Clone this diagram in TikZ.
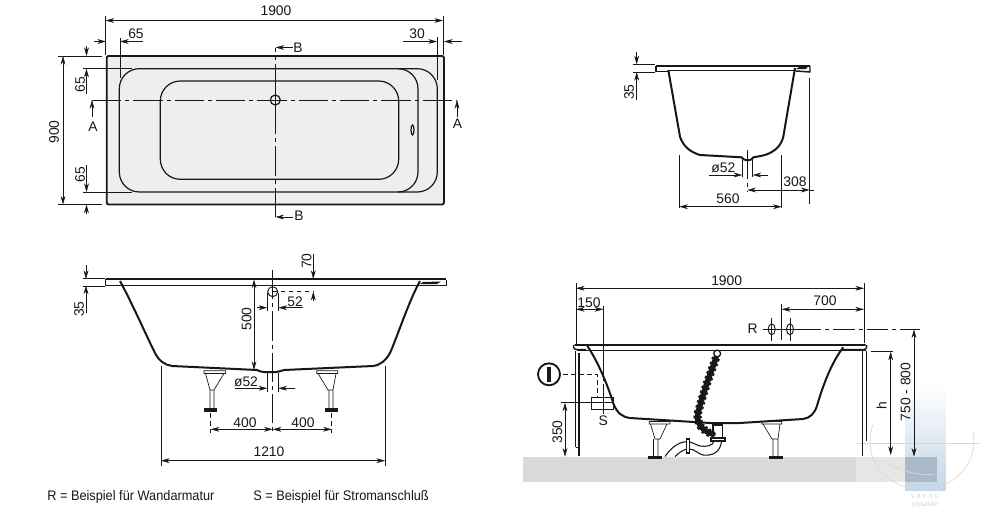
\documentclass[tikz,border=0pt]{standalone}
\usepackage{fontspec}
\setmainfont{Liberation Sans}
\newfontfamily\legendfont[FakeStretch=0.92]{Liberation Sans}
\usetikzlibrary{arrows.meta}
\definecolor{ink}{HTML}{1A1718}
\definecolor{plate}{HTML}{EEEEEE}
\definecolor{floorgrey}{HTML}{D9D9D9}
\definecolor{floorlight}{HTML}{E6E6E6}
\definecolor{wmblue}{HTML}{C3D5E7}
\definecolor{wmdark}{HTML}{AAB9C9}
\definecolor{wmline}{HTML}{D8D8D8}
\tikzset{
  dim/.style={draw=ink,line width=0.4pt},
  tip/.style={dim,-{Stealth[length=6.5pt,width=3.6pt]}},
  tips/.style={dim,{Stealth[length=6.5pt,width=3.6pt]}-{Stealth[length=6.5pt,width=3.6pt]}},
  ext/.style={draw=ink,line width=0.35pt},
  hull/.style={draw=ink,line width=1.5pt,line join=round},
  thinl/.style={draw=ink,line width=0.5pt},
  axis/.style={draw=ink,line width=0.45pt,dash pattern=on 22pt off 3pt on 3pt off 3pt},
  hid/.style={draw=ink,line width=0.5pt,dash pattern=on 3.5pt off 2.5pt},
  lbl/.style={font=\fontsize{10.4}{12}\selectfont,text=ink,inner sep=0pt},
  lblv/.style={lbl,rotate=90},
  legend/.style={font=\legendfont\fontsize{10.4}{12}\selectfont,text=ink,inner sep=0pt,anchor=west},
}
\begin{document}
\begin{tikzpicture}[x=0.75pt,y=-0.75pt]
\useasboundingbox (0,0) rectangle (993,514);
\fill[white] (0,0) rectangle (993,514);

% ---------- top view
\draw[fill=plate,line width=1.4pt,draw=ink,rounded corners=1.5pt] (106.7,56) rectangle (444,204.5);
\draw[thinl,line width=0.9pt] (398,68.7) -- (417.3,68.7) arc[start angle=-90,end angle=0,radius=20] -- (437.3,172) arc[start angle=0,end angle=90,radius=20] -- (398,192);
\draw[thinl,line width=0.9pt] (139.3,68.7) -- (398,68.7) arc[start angle=-90,end angle=0,radius=20] -- (418,172) arc[start angle=0,end angle=90,radius=20] -- (139.3,192) arc[start angle=90,end angle=180,radius=20] -- (119.3,88.7) arc[start angle=180,end angle=270,radius=20] -- cycle;
\draw[thinl,line width=0.9pt,rounded corners=15pt] (160.3,81) rectangle (398.7,179.3);
\draw[thinl,line width=0.9pt] (412.5,130) ellipse (1.5 and 5);
\draw[axis] (92,100) -- (457,100);
\draw[axis] (275.3,217) -- (275.3,47.5);
\draw[thinl,line width=0.9pt,fill=plate] (275.3,100) circle (5);
\draw[ext] (275.3,91) -- (275.3,109) (266,100) -- (284.5,100);
\draw[tip] (293,47.5) -- (275.5,47.5);
\draw[tip] (293,217) -- (275.5,217);
\node[lbl] (tB1) at (298,48) {B};
\node[lbl] (tB2) at (299,216) {B};
\draw[tip] (92,117) -- (92,100);
\draw[tip] (457,117) -- (457,100);
\node[lbl] (tA1) at (93,127) {A};
\node[lbl] (tA2) at (457.5,124) {A};
\draw[tips] (105.5,20.5) -- (443,20.5);
\draw[ext] (105.5,16) -- (105.5,55) (443,16) -- (443,55);
\node[lbl] (t1900a) at (276,11) {1900};
\draw[tip] (94,41.5) -- (106,41.5);
\draw[tip] (143,41.5) -- (120,41.5);
\draw[ext] (120,38) -- (120,78);
\node[lbl] (t65a) at (136,34) {65};
\draw[tip] (403,41.5) -- (437,41.5);
\draw[tip] (462,41.5) -- (444,41.5);
\draw[ext] (437,37) -- (437,80);
\node[lbl] (t30) at (417,34) {30};
\draw[tips] (63,56) -- (63,204.5);
\draw[ext] (58,56) -- (102,56) (58,204.5) -- (102,204.5) (83,68.7) -- (132,68.7) (83,192) -- (132,192);
\node[lblv] (t900) at (54,132) {900};
\draw[tip] (86.5,46) -- (86.5,56);
\draw[tip] (86.5,94) -- (86.5,68.7);
\node[lblv] (t65b) at (80,84.5) {65};
\draw[tip] (86.5,165) -- (86.5,192);
\draw[tip] (86.5,214) -- (86.5,204.5);
\node[lblv] (t65c) at (80,174.5) {65};

% ---------- section A-A
\draw[hull] (120,281) .. controls (132,303) and (146,335) .. (155,353) .. controls (159,361) and (165,365) .. (172,366) -- (257,370) .. controls (259,371) and (261,372) .. (264,372) -- (276,372) .. controls (279,372) and (281,370.5) .. (284,370) -- (373,366) .. controls (381,365) and (386,360) .. (390,353) .. controls (398,335) and (408,303) .. (420,281);
\draw[line width=1.5pt,draw=ink] (105.7,279.3) -- (446,279.3);
\draw[thinl,line width=0.7pt] (120,285.2) -- (419,285.2);
\draw[hull,line width=1.1pt] (120,285.7) -- (105.7,285.7) -- (105.7,279.3);
\draw[hull,line width=1.1pt] (419,285.7) -- (446.7,285.7) -- (446.7,280);
\fill[ink] (420,284) -- (423,282) -- (441,281.5) -- (437,284) -- cycle;
\draw[thinl] (204,370.7) rectangle (225.7,373.5) (205.5,373.5) -- (210,390) -- (214,390) -- (224,373.5) (210,390) -- (210,408) (214,390) -- (214,408);
\fill[ink] (204,407.7) rectangle (217.3,412);
\draw[thinl] (316.7,370.7) rectangle (337.7,373.5) (318,373.5) -- (328,390) -- (333,390) -- (336,373.5) (329,390) -- (329,408) (333,390) -- (333,408);
\fill[ink] (325,407.7) rectangle (338,412);
\draw[axis] (272.7,270) -- (272.7,433);
\draw[thinl,line width=0.7pt] (272.7,291.7) circle (5);
\draw[hid] (272.7,291.7) -- (313,291.7);
\draw[tips] (254,279.5) -- (254,370);
\node[lblv] (t500) at (246.5,319) {500};
\draw[tip] (313.3,254) -- (313.3,279);
\draw[tip] (313.3,301) -- (313.3,291.7);
\node[lblv] (t70) at (306.5,261) {70};
\draw[ext] (267.3,293) -- (267.3,311) (278.3,293) -- (278.3,311);
\draw[tip] (257,307.7) -- (267.3,307.7);
\draw[tip] (303,307.7) -- (278.3,307.7);
\node[lbl] (t52a) at (295,301.5) {52};
\draw[tip] (86,265) -- (86,279);
\draw[tip] (86,313) -- (86,285.5);
\draw[ext] (83,278.5) -- (105,278.5) (83,286) -- (105,286);
\node[lblv] (t35a) at (79,309) {35};
\draw[ext] (267.3,373) -- (267.3,392) (278.3,373) -- (278.3,392);
\draw[tip] (235,388.3) -- (267.3,388.3);
\draw[tip] (295,388.3) -- (278.3,388.3);
\node[lbl] (td52a) at (246,381.5) {ø52};
\draw[hid,line width=0.4pt] (210.7,413) -- (210.7,433) (331.7,413) -- (331.7,433);
\draw[tips] (210.7,429.3) -- (272.7,429.3);
\draw[tips] (272.7,429.3) -- (331.7,429.3);
\node[lbl] (t400a) at (245,422.5) {400};
\node[lbl] (t400b) at (303,422.5) {400};
\draw[ext] (161,366) -- (161,466) (385,366) -- (385,466);
\draw[tips] (161,460.7) -- (385,460.7);
\node[lbl] (t1210) at (269,451.5) {1210};

% ---------- section B-B
\draw[hull] (668.3,70) -- (680,136.7) .. controls (683,146) and (690,152) .. (700,155) -- (741.7,157.3) .. controls (743,159) and (744,160) .. (746,160) -- (750,160) .. controls (752,160) and (752.5,158) .. (753.3,157.3) .. controls (758,156.5) and (762,156) .. (767,154.3) .. controls (775,151) and (781,146) .. (783.3,136.7) -- (795,68);
\draw[line width=1.5pt,draw=ink] (656,65.5) -- (810,65.5);
\draw[thinl,line width=0.7pt] (668,70.7) -- (796,70.7);
\draw[hull,line width=1.1pt] (668,71.5) -- (656,71.5) -- (656,65.5);
\draw[hull,line width=1.1pt] (796,71) -- (810,72) -- (810,66);
\fill[ink] (796,69) -- (799,67) -- (808,66.5) -- (806,69) -- cycle;
\draw[axis] (747.3,150) -- (747.3,192);
\draw[tip] (636.7,52) -- (636.7,64.3);
\draw[tip] (636.7,100) -- (636.7,72);
\draw[ext] (633,64.3) -- (655,64.3) (633,72) -- (655,72);
\node[lblv] (t35b) at (629,92) {35};
\draw[ext] (742.3,160) -- (742.3,177) (752.7,160) -- (752.7,177);
\draw[tip] (709,175) -- (742.3,175);
\draw[tip] (768,175) -- (752.7,175);
\node[lbl] (td52b) at (723.3,167.5) {ø52};
\draw[tip] (762,190) -- (747.3,190);
\draw[tip] (750,190) -- (809.5,190);
\draw[dim] (809.5,190) -- (814,190);
\draw[ext] (809.5,78) -- (809.5,204);
\node[lbl] (t308) at (795,182) {308};
\draw[ext] (679.3,155) -- (679.3,208) (781.7,155) -- (781.7,208);
\draw[tips] (679.3,206.7) -- (781.7,206.7);
\node[lbl] (t560) at (728,199) {560};

% ---------- installation view: floor and watermark
\fill[floorgrey] (522.7,456.7) rectangle (856,481.7);
\fill[floorlight] (856,456.7) rectangle (936.7,481.7);
\shade[top color=white,bottom color=wmblue] (905,385) rectangle (945.7,490.7);
\fill[wmdark] (905,456.7) rectangle (936.7,481.7);
\draw[wmline,line width=0.5pt] (856,443.3) -- (980,443.3);
\draw[wmline,line width=0.5pt] (873,425) arc[start angle=200,end angle=-10,x radius=52,y radius=48];
\draw[wmline,line width=0.5pt] (883,460) .. controls (900,472) and (920,476) .. (935,474);
\node[inner sep=0pt,font=\fontsize{5.5}{6}\selectfont,text=wmline] (twm1) at (925,497) {v a n n u};
\node[inner sep=0pt,font=\fontsize{5.5}{6}\selectfont,text=wmline] (twm2) at (925,504.5) {pasaule};

% ---------- installation view: tub
\draw[hull] (587.3,346) .. controls (597,360) and (607,383) .. (613.3,403.3) .. controls (617,413) and (622,417) .. (630,418) -- (710,423) -- (740,423) -- (803,419) .. controls (810,418) and (814,414) .. (816.7,406.7) .. controls (824,382) and (832,362) .. (843.3,347.3);
\draw[line width=1.5pt,draw=ink,line cap=round] (575,345) -- (865,345);
\draw[thinl,line width=0.6pt] (577,350.3) -- (866,350.3);
\draw[hull,line width=1.1pt,rounded corners=2pt] (586,349.5) -- (573.5,349.5) -- (573.5,345);
\draw[hull,line width=1.1pt,rounded corners=2pt] (843,349.5) -- (866.7,349.5) -- (866.7,345);
% panels
\draw[thinl] (575.7,351) -- (575.7,447) (575.7,447) -- (579,447);
\draw[hull,line width=1.1pt] (579,353) -- (579,455.7);
\draw[thinl] (866.5,351) -- (866.5,441);
\draw[hull,line width=1.1pt] (862.5,351) -- (862.5,455.7);
% feet
\draw[thinl] (649.3,421.5) rectangle (670,424) (650.5,424) -- (655,439) -- (660,439) -- (667,424) (653.5,439) -- (653.5,456) (658,439) -- (658,456);
\fill[ink] (648.3,456) rectangle (662,459.3);
\draw[thinl] (761.7,421.5) rectangle (781.7,424) (763,424) -- (772,439) -- (778,439) -- (780,424) (773,439) -- (773,456) (778,439) -- (778,456);
\fill[ink] (769.3,456) rectangle (783.3,459.3);
% trap
\draw[thinl,line width=0.8pt] (721.7,441) .. controls (720,453) and (712,456) .. (703,455) .. controls (698,454) and (695,449) .. (689,449) .. controls (683,449) and (679,453) .. (675,456.5);
\draw[thinl,line width=0.8pt] (714,441) .. controls (713,446) and (706,447) .. (700,446) .. controls (696,445) and (692,441.7) .. (687,441.7) .. controls (678,441.7) and (670,449) .. (665,456.5);
\draw[thinl,fill=white,line width=0.8pt] (686.8,439) rectangle (689.8,453);
\draw[thinl,fill=white,line width=1pt] (713,425) rectangle (722.7,438);
\draw[thinl,fill=white,line width=1pt] (711,438) rectangle (725,441);
% hose
\draw[ink,line width=4.2pt,line cap=round] (716,358) .. controls (711,372) and (704,390) .. (698,413) .. controls (696,423) and (702,431) .. (713,434);
\draw[ink,line width=6.2pt,dash pattern=on 1.8pt off 2pt] (716,358) .. controls (711,372) and (704,390) .. (698,413) .. controls (696,423) and (702,431) .. (713,434);
\draw[ink,line width=1pt,fill=white] (717.2,353.5) circle (3.4);
% socket
\draw[ink,line width=1.4pt,fill=white] (549,374.3) circle (11);
\draw[ink,line width=3.2pt] (549,367) -- (549,381.5);
\draw[hid] (563,374.3) -- (597,374.3) -- (597,398);
\draw[ext] (591.7,397.3) rectangle (613.3,409);
\draw[ext] (560.7,402.7) -- (613.3,402.7);
\node[lbl] (tS) at (603.3,420.5) {S};
\draw[ext,dash pattern=on 24pt off 2pt on 2pt off 2pt] (603.3,344) -- (603.3,414);
\draw[tips] (565,402.7) -- (565,456.7);
\node[lblv] (t350) at (557.3,432) {350};
% dims above
\draw[ext] (576,283) -- (576,343.5) (864,283) -- (864,343);
\draw[tips] (576,288.3) -- (864,288.3);
\node[lbl] (t1900b) at (726.7,280.5) {1900};
\draw[tips] (576,309.3) -- (603.3,309.3);
\draw[ext] (603.3,306) -- (603.3,345);
\node[lbl] (t150) at (589,302.5) {150};
\draw[tips] (781.7,309.3) -- (864,309.3);
\draw[ext] (781.7,304) -- (781.7,340);
\node[lbl] (t700) at (825,301) {700};
\node[lbl] (tR) at (752.7,328.3) {R};
\draw[dim,line width=0.5pt] (762.7,329.3) -- (800,329.3);
\draw[draw=ink,line width=0.5pt,dash pattern=on 16pt off 3pt on 3pt off 3pt] (800,329.3) -- (920,329.3);
\draw[thinl,line width=0.7pt] (771.7,329.3) ellipse (3.5 and 5.5) (790,329.3) ellipse (3.5 and 5.5);
\draw[ext] (771.7,318) -- (771.7,341) (790,318) -- (790,341);
\draw[tips,line width=0.5pt] (914,329.3) -- (914,456.7);
\node[lblv] (t750) at (905.7,392) {750 - 800};
\draw[ext] (870.7,351.7) -- (893,351.7);
\draw[tips] (890.7,351.7) -- (890.7,455);
\node[lblv] (th) at (881.7,405.7) {h};

% ---------- legend
\node[legend] (tleg1) at (47,497) {R = Beispiel für Wandarmatur};
\node[legend] (tleg2) at (253,497) {S = Beispiel für Stromanschluß};
\end{tikzpicture}
\end{document}
